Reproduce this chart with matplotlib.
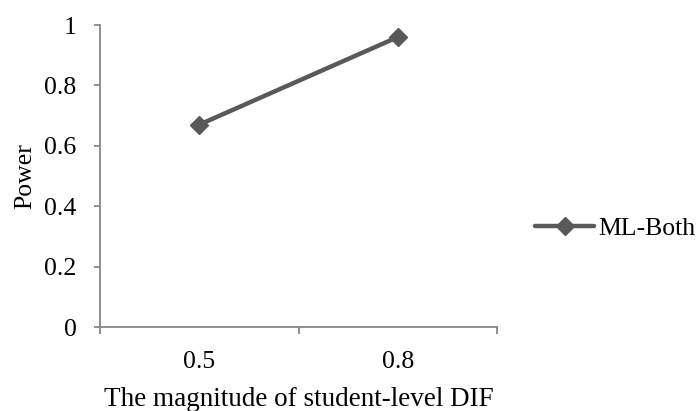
import matplotlib
matplotlib.use("Agg")
import matplotlib.pyplot as plt

categories = ["0.5", "0.8"]
power_values = [0.67, 0.96]
series_name = "ML-Both"
y_ticks = [0, 0.2, 0.4, 0.6, 0.8, 1]
y_tick_labels = ["0", "0.2", "0.4", "0.6", "0.8", "1"]

plt.rcParams['font.family'] = ['Liberation Serif', 'DejaVu Serif']
FS = 18.5
axis_color = "#868686"
line_color = "#595959"

fig = plt.figure(figsize=(6.99, 4.11), dpi=100)
ax = fig.add_axes([100/699, 1-327/411, (497-100)/699, (327-25)/411])

x = list(range(len(categories)))
line, = ax.plot(x, power_values, color=line_color, linewidth=3.2, marker='D',
                markersize=9, markerfacecolor=line_color, markeredgecolor=line_color,
                label=series_name, solid_capstyle='round')

ax.set_xlim(-0.5, len(categories) - 0.5)
ax.set_ylim(0, 1)
ax.set_yticks(y_ticks)
ax.set_yticklabels(y_tick_labels)
ax.set_xticks([i - 0.5 for i in range(len(categories) + 1)])
ax.set_xticklabels([])
ax.set_xticks(x, minor=True)
ax.set_xticklabels(categories, minor=True)

for s in ['top', 'right']:
    ax.spines[s].set_visible(False)
for s in ['left', 'bottom']:
    ax.spines[s].set_color(axis_color)
    ax.spines[s].set_linewidth(1.3)

ax.tick_params(axis='y', which='major', direction='out', length=4, width=1.3,
               color=axis_color, labelsize=FS, pad=13)
ax.tick_params(axis='x', which='major', direction='out', length=5, width=1.3,
               color=axis_color)
ax.tick_params(axis='x', which='minor', length=0, labelsize=FS, pad=17)

ax.set_ylabel("Power", fontsize=FS, labelpad=6)
ax.set_xlabel("The magnitude of student-level DIF", fontsize=19.5, labelpad=10)

fig.legend(handles=[line], labels=[series_name], loc='center left',
           bbox_to_anchor=(535/699, 1-229/411), frameon=False, fontsize=FS,
           handlelength=2.3, handletextpad=0.15, borderaxespad=0, borderpad=0)

fig.savefig("out.png", dpi=100)
